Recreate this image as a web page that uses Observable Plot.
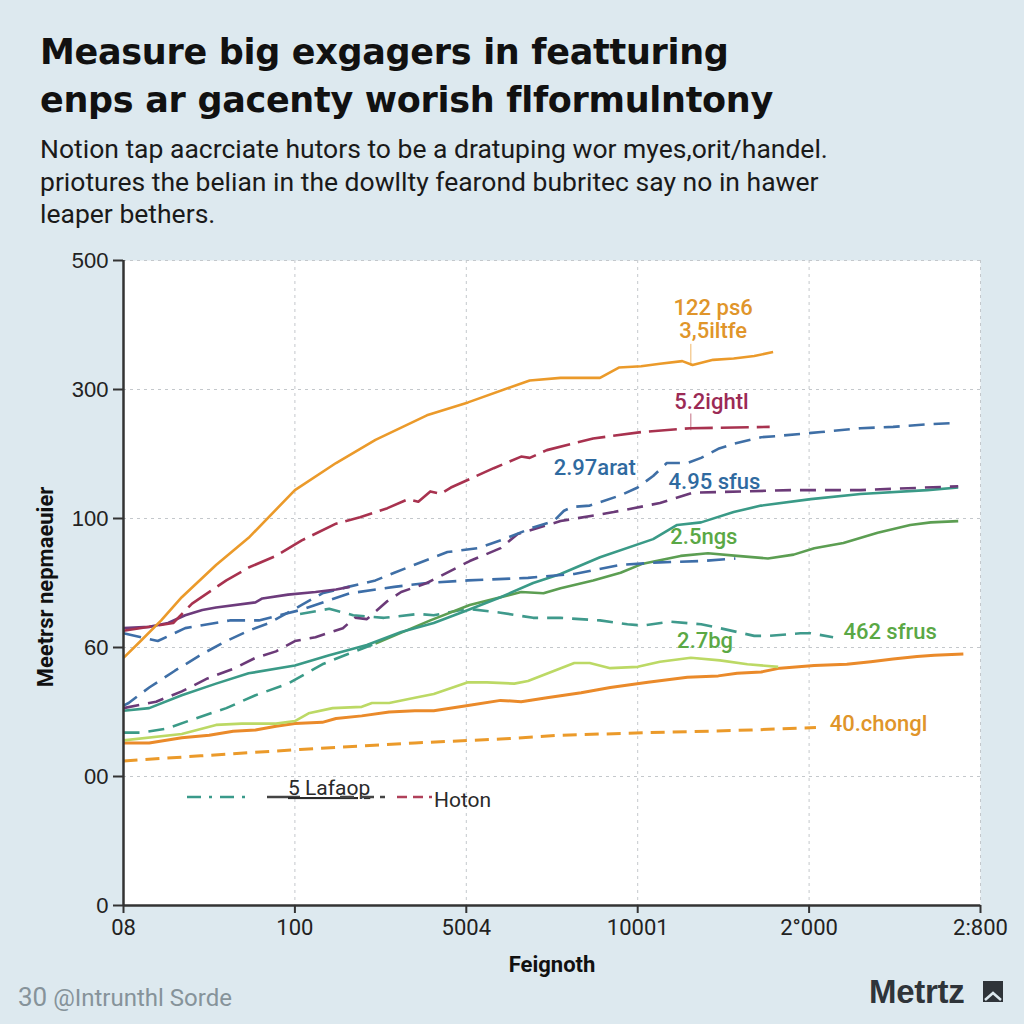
<!DOCTYPE html>
<html>
<head>
<meta charset="utf-8">
<script src="https://cdn.jsdelivr.net/npm/d3@7"></script>
<script src="https://cdn.jsdelivr.net/npm/@observablehq/plot@0.6"></script>
<style>
  html, body { margin: 0; padding: 0; }
  body { width: 1024px; height: 1024px; position: relative; overflow: hidden; background: #dde9ef; font-family: Roboto, "Liberation Sans", sans-serif; }
  #title { position: absolute; left: 40px; top: 28px; font: 700 35px "DejaVu Sans", sans-serif; line-height: 48px; color: #111; letter-spacing: -0.3px; white-space: nowrap; }
  #subtitle { position: absolute; left: 40px; top: 133px; font: 400 26.5px Roboto, sans-serif; line-height: 32.5px; color: #1a1a1a; white-space: nowrap; }
  #chart { position: absolute; left: 0; top: 240px; }
  #ylabel { position: absolute; left: 45px; top: 587px; transform: translate(-50%, -50%) rotate(-90deg); font: 700 22px Roboto, sans-serif; color: #111; white-space: nowrap; }
  #xlabel { position: absolute; left: 552px; top: 952px; transform: translateX(-50%); font: 700 22px Roboto, sans-serif; color: #111; }
  #source { position: absolute; left: 18px; top: 982px; font: 400 24px Roboto, sans-serif; color: #86939a; }
  #source .big { font-size: 26px; }
  #brand { position: absolute; left: 869px; top: 973px; font: 700 33px "Liberation Sans", sans-serif; color: #2f3439; letter-spacing: -0.3px; }
  #legend { position: absolute; left: 0; top: 0; pointer-events: none; }
</style>
</head>
<body>
<div id="title">Measure big exgagers in featturing<br>enps ar gacenty worish flformulntony</div>
<div id="subtitle">Notion tap aacrciate hutors to be a dratuping wor myes,orit/handel.<br>priotures the belian in the dowllty fearond bubritec say no in hawer<br>leaper bethers.</div>
<div id="chart"></div>
<div id="ylabel">Meetrsr nepmaeuier</div>
<div id="xlabel">Feignoth</div>
<div id="source"><span class="big">30</span> @Intrunthl Sorde</div>
<div id="brand">Metrtz</div>
<svg id="legend" width="1024" height="1024">
  <line x1="187" y1="797" x2="247" y2="797" stroke="#3a9a8a" stroke-width="2.5" stroke-dasharray="14,8,3,8"/>
  <line x1="267" y1="797" x2="300" y2="797" stroke="#444" stroke-width="2.5"/>
  <text x="288" y="795" font-family="Roboto" font-size="21" fill="#2a2a2a" text-decoration="underline">5 Lafaop</text>
  <line x1="340" y1="797" x2="385" y2="797" stroke="#444" stroke-width="2.5" stroke-dasharray="14,6"/>
  <line x1="397" y1="797" x2="432" y2="797" stroke="#b0405a" stroke-width="2.5" stroke-dasharray="10,6"/>
  <text x="434" y="807" font-family="Roboto" font-size="21" fill="#2a2a2a">Hoton</text>
  <rect x="983" y="981" width="20" height="21" fill="#2f3439"/>
  <polyline points="985,1000 993,993 1001,1000" fill="none" stroke="#dde9ef" stroke-width="2.5"/>
</svg>
<script>
// ---- axis ticks ----
const xTickValues = [0, 100, 200, 300, 400, 500];
const xTickLabels = ["08", "100", "5004", "10001", "2°000", "2:800"];
const yTickValues = [0, 100, 200, 300, 400, 500];
const yTickLabels = ["0", "00", "60", "100", "300", "500"];

// ---- series (x, y) ----
const seriesA_x = [0, 10, 22, 34, 54, 73, 100, 124, 147, 177, 201, 237, 255, 278, 289, 302, 313, 326, 332, 344, 356, 368, 379];
const seriesA_y = [192, 205, 221, 239, 264, 285, 322, 343, 361, 380, 390, 407, 409, 409, 417, 418, 420, 422, 419, 423, 424, 426, 429];

const seriesB_x = [0, 29, 40, 60, 73, 89, 104, 124, 138, 154, 166, 172, 179, 185, 191, 216, 232, 237, 247, 274, 302, 331, 377];
const seriesB_y = [213, 219, 234, 252, 262, 271, 283, 296, 301, 308, 315, 313, 321, 319, 324, 339, 348, 347, 353, 362, 367, 370, 371];

const seriesC_x = [0, 15, 26, 36, 46, 54, 77, 81, 96, 112, 124, 132];
const seriesC_y = [215, 216, 219, 225, 229, 231, 235, 238, 241, 243, 245, 247];

const seriesD_x = [0, 3, 15, 30, 46, 60, 73, 85, 104, 116, 131, 147, 158, 189, 207, 222, 239, 251, 257, 262, 272, 290, 300, 309, 317, 329, 337, 347, 356, 372, 382, 407, 430, 449, 469, 484];
const seriesD_y = [155, 157, 169, 182, 195, 205, 213, 219, 233, 242, 247, 252, 258, 274, 277, 284, 293, 298, 306, 309, 310, 318, 324, 333, 343, 343, 347, 354, 358, 363, 364, 367, 370, 371, 373, 374];

const seriesE_x = [0, 20, 36, 62, 79, 103, 132, 158, 177, 201, 236, 263, 290, 313, 337, 357];
const seriesE_y = [211, 205, 215, 221, 221, 229, 242, 247, 250, 252, 254, 257, 264, 266, 267, 269];

const seriesF_x = [0, 19, 34, 49, 65, 77, 89, 100, 112, 128, 135, 142, 154, 162, 177, 202, 220, 230, 255, 286, 313, 332, 390, 430, 487];
const seriesF_y = [153, 158, 166, 176, 184, 192, 197, 205, 208, 215, 223, 222, 236, 243, 250, 267, 277, 288, 298, 305, 312, 320, 322, 322, 325];

const seriesG_x = [0, 15, 34, 54, 73, 100, 120, 142, 162, 181, 201, 220, 239, 255, 278, 309, 323, 337, 356, 372, 401, 430, 469, 487];
const seriesG_y = [151, 153, 163, 172, 180, 186, 194, 202, 212, 219, 229, 239, 250, 257, 270, 284, 295, 297, 305, 310, 315, 319, 322, 324];

const seriesH1_x = [0, 10, 25, 42, 60, 77, 96, 116, 131, 147];
const seriesH1_y = [134, 134, 137, 145, 153, 163, 172, 187, 195, 203];

const seriesH_x = [147, 179, 202, 232, 245, 255, 274, 290, 303, 325, 341, 358, 376, 391, 403, 420, 440, 459, 471, 487];
const seriesH_y = [203, 221, 233, 243, 242, 246, 252, 258, 265, 271, 273, 271, 269, 272, 277, 281, 289, 295, 297, 298];

const seriesI_x = [103, 120, 134, 152, 172, 181, 201, 220, 239, 255, 278, 294, 303, 319, 337, 348, 368, 376, 395, 401, 414];
const seriesI_y = [226, 230, 225, 223, 226, 225, 230, 227, 223, 223, 221, 218, 217, 220, 218, 215, 209, 209, 211, 211, 208];

const seriesJ_x = [0, 34, 54, 69, 89, 100, 108, 122, 139, 145, 155, 170, 181, 201, 212, 228, 236, 263, 272, 284, 300, 313, 331, 348, 364, 382];
const seriesJ_y = [128, 133, 140, 141, 141, 143, 149, 153, 154, 157, 157, 161, 164, 173, 173, 172, 174, 188, 188, 184, 185, 189, 192, 190, 187, 185];

const seriesK_x = [0, 15, 34, 50, 64, 77, 89, 100, 116, 124, 139, 155, 170, 181, 201, 220, 232, 247, 267, 284, 306, 329, 347, 358, 372, 383, 403, 422, 436, 449, 463, 473, 490];
const seriesK_y = [126, 126, 130, 132, 135, 136, 139, 141, 142, 145, 147, 150, 151, 151, 155, 159, 158, 161, 165, 169, 173, 177, 178, 180, 181, 184, 186, 187, 189, 191, 193, 194, 195];

const seriesL_x = [0, 45, 103, 170, 220, 255, 307, 366, 404];
const seriesL_y = [112, 116, 121, 126, 129, 132, 134, 136, 138];

// ---- annotations ----
const noteText = ["122 ps6", "3,5iltfe", "5.2ightl", "2.97arat", "4.95 sfus", "2.5ngs", "2.7bg", "462 sfrus", "40.chongl"];
const noteX = [344, 344, 343, 251, 318, 319, 323, 420, 412];
const noteY = [463, 445, 390, 339, 328, 286, 205, 212, 141];
const noteSeries = ["A", "A", "B", "D", "D", "H", "H", "H", "L"];
const noteAnchor = ["middle", "middle", "middle", "start", "start", "start", "start", "start", "start"];

const leaderX = [331, 331];
const leaderY1 = [418, 368];
const leaderY2 = [435, 381];
const leaderSeries = ["A", "B"];

// ---- styles (kept separate from data) ----
const styles = {
  A:  {stroke: "#eb9a2a", width: 2.6, dash: null},
  B:  {stroke: "#a8324f", width: 2.6, dash: "28,8"},
  C:  {stroke: "#6d3b7c", width: 2.6, dash: null},
  D:  {stroke: "#3f6fa6", width: 2.6, dash: "16,9"},
  E:  {stroke: "#3d6ea8", width: 2.6, dash: "18,9"},
  F:  {stroke: "#6b3a78", width: 2.6, dash: "16,9"},
  G:  {stroke: "#3a9a87", width: 2.6, dash: null},
  H1: {stroke: "#3a9a87", width: 2.6, dash: "16,9"},
  H:  {stroke: "#5c9e52", width: 2.6, dash: null},
  I:  {stroke: "#3f9a8c", width: 2.6, dash: "16,9"},
  J:  {stroke: "#bcd965", width: 2.6, dash: null},
  K:  {stroke: "#ea8a2a", width: 3, dash: null},
  L:  {stroke: "#eb9a2a", width: 3, dash: "14,8"}
};
const noteColors = {A: "#e0952a", B: "#9b2a55", D: "#2f6aa0", H: "#5aa845", L: "#e0952a"};

const seriesList = [
  ["K", seriesK_x, seriesK_y], ["L", seriesL_x, seriesL_y], ["J", seriesJ_x, seriesJ_y],
  ["I", seriesI_x, seriesI_y], ["H1", seriesH1_x, seriesH1_y], ["H", seriesH_x, seriesH_y],
  ["G", seriesG_x, seriesG_y], ["E", seriesE_x, seriesE_y], ["F", seriesF_x, seriesF_y],
  ["D", seriesD_x, seriesD_y], ["C", seriesC_x, seriesC_y], ["B", seriesB_x, seriesB_y],
  ["A", seriesA_x, seriesA_y]
];

const lineMarks = seriesList.map(([name, xs, ys]) => {
  const data = xs.map((x, i) => ({x, y: ys[i]}));
  const s = styles[name];
  const opts = {x: "x", y: "y", stroke: s.stroke, strokeWidth: s.width, strokeLinejoin: "round", strokeLinecap: "butt"};
  if (s.dash) opts.strokeDasharray = s.dash;
  return Plot.line(data, opts);
});

const notes = noteText.map((t, i) => ({text: t, x: noteX[i], y: noteY[i], c: noteColors[noteSeries[i]], a: noteAnchor[i]}));
const leaders = leaderX.map((x, i) => ({x, y1: leaderY1[i], y2: leaderY2[i], c: styles[leaderSeries[i]].stroke}));

const chart = Plot.plot({
  width: 1024,
  height: 720,
  marginTop: 20,
  marginBottom: 55,
  marginLeft: 123,
  marginRight: 44,
  style: {background: "transparent", fontFamily: "Roboto, sans-serif", color: "#222"},
  x: {domain: [0, 500]},
  y: {domain: [0, 500]},
  marks: [
    Plot.frame({fill: "white", stroke: "none"}),
    Plot.ruleX(xTickValues.slice(1), {stroke: "#c4c8cc", strokeDasharray: "3,4", strokeWidth: 1}),
    Plot.ruleY(yTickValues.slice(1), {stroke: "#c4c8cc", strokeDasharray: "3,4", strokeWidth: 1}),
    ...lineMarks,
    Plot.ruleX(leaders, {x: "x", y1: "y1", y2: "y2", stroke: "c", strokeWidth: 1, strokeOpacity: 0.7}),
    Plot.text(notes.filter(d => d.a === "middle"), {x: "x", y: "y", text: "text", fill: "c", textAnchor: "middle", fontSize: 22, fontWeight: 500, fontFamily: "Roboto"}),
    Plot.text(notes.filter(d => d.a === "start"), {x: "x", y: "y", text: "text", fill: "c", textAnchor: "start", fontSize: 22, fontWeight: 500, fontFamily: "Roboto"}),
    Plot.ruleX([0], {stroke: "#333", strokeWidth: 2.5}),
    Plot.ruleY([0], {stroke: "#333", strokeWidth: 2.5}),
    Plot.axisY(yTickValues, {tickFormat: (d) => yTickLabels[yTickValues.indexOf(d)], tickSize: 10, tickPadding: 5, stroke: "#333", strokeWidth: 2, fontSize: 22, fontFamily: "Liberation Sans", fill: "#222", label: null}),
    Plot.axisX(xTickValues, {tickFormat: (d) => xTickLabels[xTickValues.indexOf(d)], tickSize: 8, tickPadding: 6, stroke: "#333", strokeWidth: 2, fontSize: 22, fontFamily: "Roboto", fill: "#222", label: null})
  ]
});
document.getElementById("chart").appendChild(chart);
</script>
</body>
</html>
